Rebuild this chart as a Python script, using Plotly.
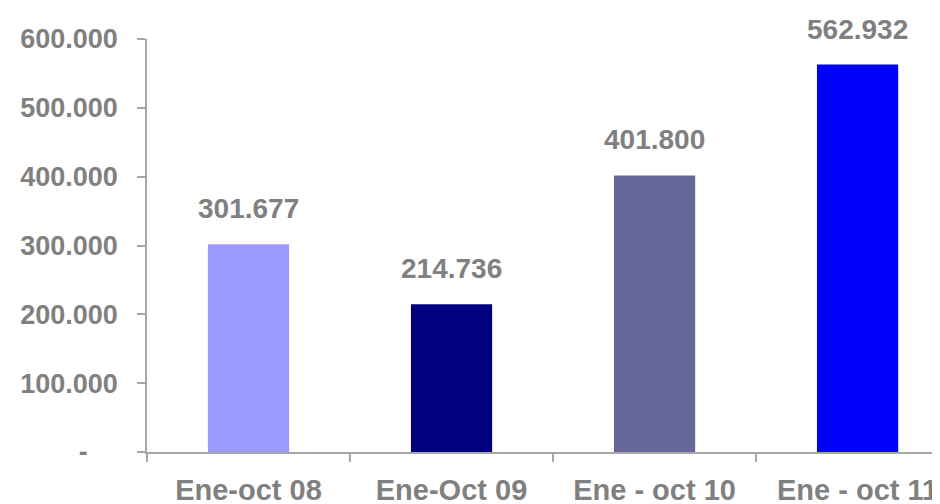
import plotly.graph_objects as go

# datos
categorias = ["Ene-oct 08", "Ene-Oct 09", "Ene - oct 10", "Ene - oct 11"]
valores = [301677, 214736, 401800, 562932]
colores = ["#9999FF", "#000080", "#666699", "#0000FF"]
tick_vals = [0, 100000, 200000, 300000, 400000, 500000, 600000]
tick_text = ["-\u00a0\u00a0\u00a0\u00a0", "100.000", "200.000", "300.000",
             "400.000", "500.000", "600.000"]

GRIS = "#808080"
FUENTE = "Liberation Sans, Arial, sans-serif"

fig = go.Figure()
fig.add_trace(go.Bar(
    x=categorias,
    y=valores,
    marker=dict(color=colores, line=dict(width=0)),
    width=0.4,
    hoverinfo="x+y",
))

# etiquetas de datos
for cat, val in zip(categorias, valores):
    fig.add_annotation(
        x=cat, y=val,
        text=f"{val:,}".replace(",", "."),
        showarrow=False,
        yanchor="bottom",
        yshift=18,
        font=dict(family=FUENTE, size=28, color=GRIS, weight="bold"),
    )

# la página tiene 8px de margen en el body, se compensa aquí
fig.update_layout(
    width=932, height=496,
    margin=dict(l=139, r=0, t=31, b=52),
    plot_bgcolor="white",
    paper_bgcolor="white",
    showlegend=False,
    font=dict(family=FUENTE, size=27, color=GRIS, weight="bold"),
    xaxis=dict(
        range=[-0.5, 3.406],
        automargin=False,
        showline=True, linecolor="#A6A6A6", linewidth=1.5,
        ticks="outside", ticklen=8, tickcolor="#A6A6A6", tickwidth=1.5,
        tickson="boundaries",
        ticklabelstandoff=11,
        showgrid=False,
        tickfont=dict(family=FUENTE, size=29, color=GRIS, weight="bold"),
    ),
    yaxis=dict(
        range=[0, 600000],
        automargin=False,
        tickvals=tick_vals, ticktext=tick_text,
        showline=True, linecolor="#A6A6A6", linewidth=1.5,
        ticks="outside", ticklen=8, tickcolor="#A6A6A6", tickwidth=1.5,
        ticklabelstandoff=14,
        showgrid=False, zeroline=False,
        tickfont=dict(family=FUENTE, size=27, color=GRIS, weight="bold"),
    ),
)

fig.write_html("out.html")
